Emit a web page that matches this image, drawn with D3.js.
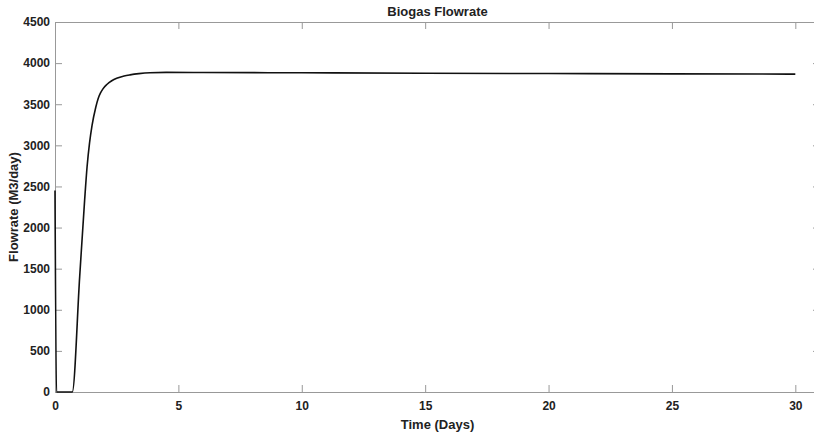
<!DOCTYPE html>
<html>
<head>
<meta charset="utf-8">
<script src="https://cdn.jsdelivr.net/npm/d3@7/dist/d3.min.js"></script>
<style>
  body { margin: 0; background: #fff; }
  svg text { font-family: "Liberation Sans", Arial, sans-serif; font-weight: bold; fill: #222; }
  .axis path, .axis line { stroke: #999; }
</style>
</head>
<body>
<div id="chart"></div>
<script>
// values
const timeDays = [0, 0.06, 0.7, 1.0, 1.2, 1.3, 1.4, 1.5, 1.65, 1.75, 1.85, 1.95, 2.1, 2.3, 2.5, 2.8, 3.04, 3.4, 3.85, 4.5, 6, 10, 15, 20, 25, 30];
const flowrate = [2450, 0, 0, 1400, 2330, 2740, 3030, 3240, 3460, 3570, 3640, 3690, 3740, 3785, 3815, 3843, 3857, 3872, 3883, 3887, 3886, 3882, 3877, 3873, 3869, 3866];
const xTicks = [0, 5, 10, 15, 20, 25, 30];
const yTicks = [0, 500, 1000, 1500, 2000, 2500, 3000, 3500, 4000, 4500];

const W = 814, H = 437;
const margin = { top: 22, right: -6, bottom: 45, left: 55 };
const width = W - margin.left - margin.right;
const height = H - margin.top - margin.bottom;

const svg = d3.select("#chart").append("svg")
  .attr("width", W).attr("height", H);

const g = svg.append("g")
  .attr("transform", `translate(${margin.left},${margin.top})`);

const x = d3.scaleLinear().domain([0, 31]).range([0, width]);
const y = d3.scaleLinear().domain([0, 4500]).range([height, 0]);
const fmt = d3.format("d");

// axes, ticks pointing inward (matlab style box)
g.append("g").attr("class", "axis")
  .attr("transform", `translate(0,${height})`)
  .call(d3.axisBottom(x).tickValues(xTicks).tickFormat(fmt).tickSizeInner(-7).tickSizeOuter(0).tickPadding(9))
  .call(a => a.selectAll("text").style("font-size", "12px"));

g.append("g").attr("class", "axis")
  .call(d3.axisLeft(y).tickValues(yTicks).tickFormat(fmt).tickSizeInner(-7).tickSizeOuter(0).tickPadding(5))
  .call(a => a.selectAll("text").style("font-size", "12px"));

g.append("g").attr("class", "axis")
  .call(d3.axisTop(x).tickValues(xTicks).tickSizeInner(-7).tickSizeOuter(0).tickFormat(""));

g.append("g").attr("class", "axis")
  .attr("transform", `translate(${width},0)`)
  .call(d3.axisRight(y).tickValues(yTicks).tickSizeInner(-7).tickSizeOuter(0).tickFormat(""));

// the curve
const line = d3.line()
  .x((d, i) => x(timeDays[i]))
  .y(d => y(d))
  .curve(d3.curveMonotoneX);

g.append("path")
  .datum(flowrate)
  .attr("fill", "none")
  .attr("stroke", "#111")
  .attr("stroke-width", 1.6)
  .attr("d", line);

// title and labels
svg.append("text")
  .attr("x", margin.left + x(15.5)).attr("y", 16)
  .attr("text-anchor", "middle")
  .style("font-size", "13px")
  .text("Biogas Flowrate");

svg.append("text")
  .attr("x", margin.left + x(15.5)).attr("y", 429)
  .attr("text-anchor", "middle")
  .style("font-size", "13px")
  .text("Time (Days)");

svg.append("text")
  .attr("transform", `translate(18,${margin.top + height / 2}) rotate(-90)`)
  .attr("text-anchor", "middle")
  .style("font-size", "13px")
  .text("Flowrate (M3/day)");
</script>
</body>
</html>
